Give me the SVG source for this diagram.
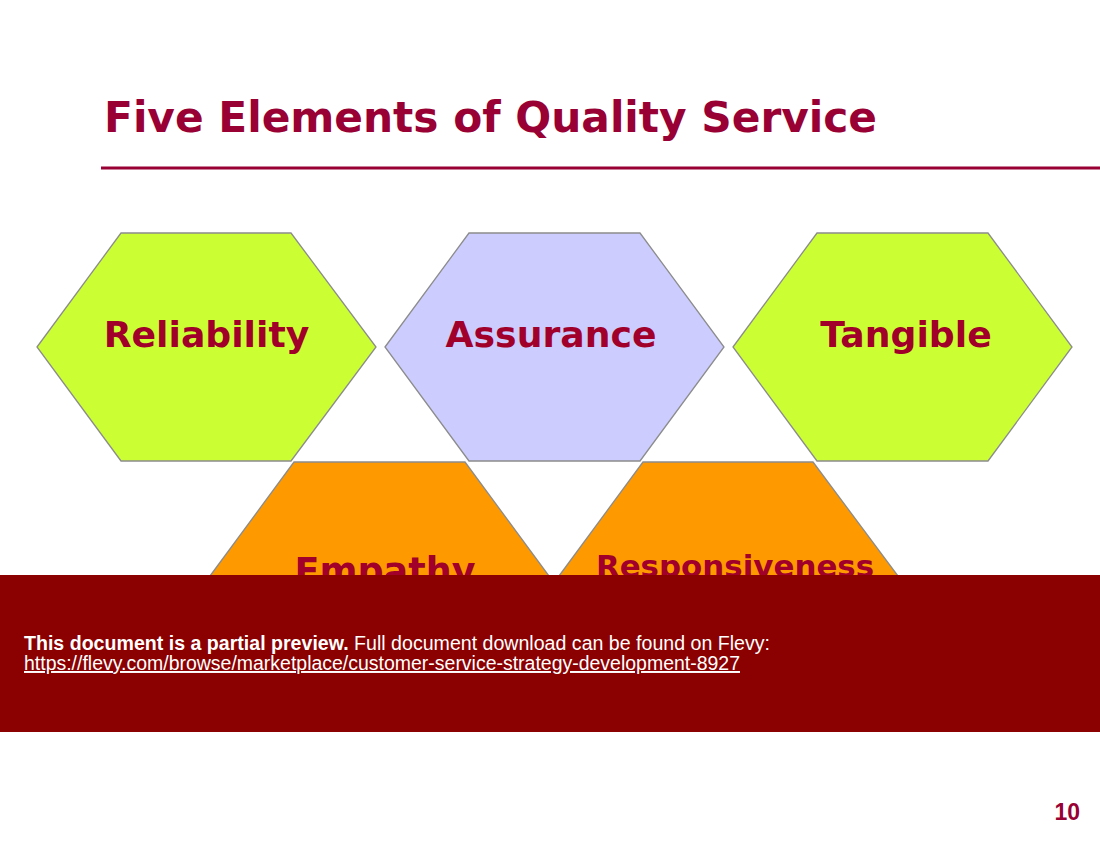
<svg xmlns="http://www.w3.org/2000/svg" width="1100" height="850" viewBox="0 0 1100 850">
<style>
.hex{stroke:#8c8c8c;stroke-width:1.3}
.lbl{font-family:"DejaVu Sans",Verdana,sans-serif;font-weight:bold;fill:#A0002A;text-anchor:middle}
.ban{font-family:"Liberation Sans",Arial,sans-serif;font-size:19.5px;fill:#fff}
</style>
<rect width="1100" height="850" fill="#fff"/>
<text x="104" y="132" textLength="773" style="font-family:'DejaVu Sans',Verdana,sans-serif;font-weight:bold;font-size:42.3px;fill:#990033">Five Elements of Quality Service</text>
<line x1="101" y1="168" x2="1100" y2="168" stroke="#990033" stroke-width="3"/>
<g id="connectors"/>
<g id="reliability">
<polygon class="hex" fill="#CCFF33" points="37,347 121,233 291,233 376,347 291,461 121,461"/>
<text class="lbl" x="206.5" y="347" font-size="36.2">Reliability</text>
</g>
<g id="assurance">
<polygon class="hex" fill="#CCCCFF" points="385,347 469,233 640,233 724,347 640,461 469,461"/>
<text class="lbl" x="551" y="347" font-size="36.2">Assurance</text>
</g>
<g id="tangible">
<polygon class="hex" fill="#CCFF33" points="733,347 817,233 988,233 1072,347 988,461 817,461"/>
<text class="lbl" x="906" y="347" font-size="36.2">Tangible</text>
</g>
<g id="empathy">
<polygon class="hex" fill="#FF9900" points="210,576 294,462 465,462 549,576 465,690 294,690"/>
<text class="lbl" x="385" y="584" font-size="36.5">Empathy</text>
</g>
<g id="responsiveness">
<polygon class="hex" fill="#FF9900" points="559,576 643,462 813,462 898,576 813,690 643,690"/>
<text class="lbl" x="735" y="577" font-size="30.9">Responsiveness</text>
</g>
<g id="banner">
<rect x="0" y="575" width="1100" height="157" fill="#8B0000"/>
<text class="ban" x="24" y="650" textLength="746" lengthAdjust="spacingAndGlyphs"><tspan font-weight="bold">This document is a partial preview.</tspan>  Full document download can be found on Flevy:</text>
<text class="ban" x="24" y="670" textLength="716" lengthAdjust="spacingAndGlyphs" text-decoration="underline">https://flevy.com/browse/marketplace/customer-service-strategy-development-8927</text>
</g>
<text x="1080" y="820" text-anchor="end" style="font-family:'Liberation Sans',Arial,sans-serif;font-weight:bold;font-size:23px;fill:#990033">10</text>
</svg>
